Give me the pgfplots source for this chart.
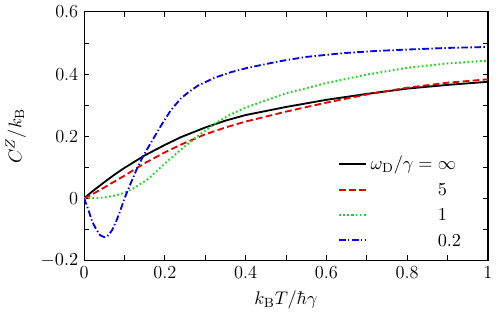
\documentclass[border=0pt]{standalone}
\usepackage{pgfplots}
\pgfplotsset{compat=1.18}
\definecolor{gpred}{rgb}{0.89,0,0}
\definecolor{gpgreen}{rgb}{0.1,0.85,0.1}
\definecolor{gpblue}{rgb}{0,0,0.95}
\begin{document}
\begin{tikzpicture}[font=\fontsize{11}{13}\selectfont]
\begin{axis}[
    scale only axis,
    width=242pt, height=149pt,
    xmin=0, xmax=1, ymin=-0.2, ymax=0.6,
    xtick={0,0.2,...,1}, ytick={-0.2,0,...,0.6},
    minor tick num=1,
    tick align=inside,
    major tick length=3pt, minor tick length=3pt,
    tick style={line width=0.5pt, black},
    axis line style={line width=0.7pt},
    xticklabels={0,0.2,0.4,0.6,0.8,1},
    yticklabels={$-0.2$,0,0.2,0.4,0.6},
    xlabel={$k_{\mathrm{B}}T/\hbar\gamma$},
    ylabel={$C^Z/k_{\mathrm{B}}$},
    ylabel style={yshift=2pt},
    legend cell align=left,
    legend style={draw=none, fill=none, at={(0.955,0.02)}, anchor=south east,
        row sep=1.5pt},
    legend image code/.code={\draw[mark repeat=2,mark phase=2,line width=1.1pt,#1] plot coordinates {(0cm,0cm) (0.29cm,0cm) (0.58cm,0cm)};},
]
\addplot[color=black, line width=1.1pt] coordinates {
(0,0) (0.02,0.022) (0.05,0.052) (0.075,0.076) (0.1,0.098) (0.125,0.118)
(0.15,0.138) (0.2,0.172) (0.24,0.197) (0.3,0.228) (0.35,0.25) (0.4,0.268)
(0.5,0.294) (0.6,0.317) (0.7,0.336) (0.8,0.353) (0.9,0.365) (1.0,0.375)
};
\addplot[color=gpred, line width=1.1pt, dash pattern=on 4pt off 2pt] coordinates {
(0,0) (0.02,0.013) (0.05,0.035) (0.075,0.054) (0.1,0.073) (0.125,0.093)
(0.15,0.113) (0.2,0.148) (0.24,0.173) (0.3,0.206) (0.35,0.228) (0.4,0.247)
(0.5,0.279) (0.6,0.308) (0.7,0.334) (0.8,0.356) (0.9,0.372) (1.0,0.383)
};
\addplot[color=gpgreen, line width=1.2pt, dash pattern=on 1pt off 1.5pt] coordinates {
(0,0) (0.03,0.001) (0.05,0.003) (0.08,0.01) (0.1,0.018) (0.125,0.034)
(0.158,0.062) (0.2,0.112) (0.24,0.157) (0.281,0.2) (0.323,0.24) (0.36,0.268)
(0.4,0.292) (0.5,0.338) (0.6,0.371) (0.7,0.398) (0.8,0.42) (0.9,0.434) (1.0,0.443)
};
\addplot[color=gpblue, line width=1.1pt, dash pattern=on 4pt off 1.5pt on 0.8pt off 1.5pt] coordinates {
(0,0) (0.01,-0.035) (0.02,-0.075) (0.03,-0.1) (0.04,-0.119) (0.05,-0.125)
(0.06,-0.119) (0.07,-0.101) (0.08,-0.072) (0.09,-0.038) (0.1,0.0)
(0.116,0.05) (0.13,0.093) (0.145,0.133) (0.16,0.167) (0.175,0.2) (0.19,0.233)
(0.215,0.284) (0.24,0.322) (0.26,0.343) (0.281,0.362) (0.323,0.388) (0.364,0.406)
(0.405,0.42) (0.45,0.432) (0.488,0.442) (0.55,0.455) (0.64,0.467) (0.72,0.474)
(0.805,0.479) (0.9,0.484) (1.0,0.487)
};
\legend{$\omega_{\mathrm{D}}/\gamma=\infty$,
  $\phantom{\omega_{\mathrm{D}}/\gamma}\mathrel{\phantom{=}}5$,
  $\phantom{\omega_{\mathrm{D}}/\gamma}\mathrel{\phantom{=}}1$,
  $\phantom{\omega_{\mathrm{D}}/\gamma}\mathrel{\phantom{=}}0.2$}
\end{axis}
\end{tikzpicture}
\end{document}
